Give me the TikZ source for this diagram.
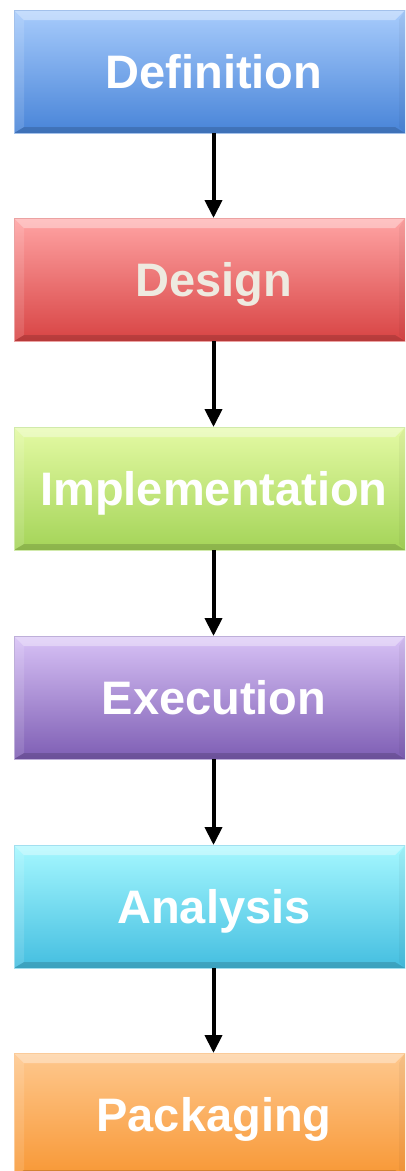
\documentclass[tikz,border=0pt]{standalone}
\usepackage{fontspec}
\setmainfont{Liberation Sans}
\usetikzlibrary{arrows.meta}
\definecolor{bluetop}{HTML}{A8CCFC}\definecolor{bluebot}{HTML}{4884D8}
\definecolor{redtop}{HTML}{FFA4A4}\definecolor{redbot}{HTML}{D84444}
\definecolor{greentop}{HTML}{E4FAA4}\definecolor{greenbot}{HTML}{A4D458}
\definecolor{purptop}{HTML}{D8C2F6}\definecolor{purpbot}{HTML}{7E5EB4}
\definecolor{cyantop}{HTML}{A6F8FF}\definecolor{cyanbot}{HTML}{44BEE0}
\definecolor{orgtop}{HTML}{FEC88E}\definecolor{orgbot}{HTML}{F89836}
\definecolor{designtxt}{HTML}{EEEAE0}
\tikzset{
  stagebox/.style={rectangle, inner sep=0pt, outer sep=0pt,
    minimum width=391pt, minimum height=123pt,
    path picture={
      \fill[white,opacity=.35] (path picture bounding box.north west) -- (path picture bounding box.north east)
        -- ([xshift=-10pt,yshift=-10pt]path picture bounding box.north east)
        -- ([xshift=10pt,yshift=-10pt]path picture bounding box.north west) -- cycle;
      \fill[black,opacity=.15] (path picture bounding box.south west) -- (path picture bounding box.south east)
        -- ([xshift=-10pt,yshift=6pt]path picture bounding box.south east)
        -- ([xshift=10pt,yshift=6pt]path picture bounding box.south west) -- cycle;
      \fill[white,opacity=.12] (path picture bounding box.north west) -- ([xshift=10pt,yshift=-10pt]path picture bounding box.north west)
        -- ([xshift=10pt,yshift=6pt]path picture bounding box.south west) -- (path picture bounding box.south west) -- cycle;
      \fill[black,opacity=.04] (path picture bounding box.north east) -- ([xshift=-6pt,yshift=-10pt]path picture bounding box.north east)
        -- ([xshift=-6pt,yshift=6pt]path picture bounding box.south east) -- (path picture bounding box.south east) -- cycle;
    }},
  stagetxt/.style={anchor=base, inner sep=0pt, text=white, font=\fontsize{47}{51}\selectfont\bfseries},
  flowarrow/.style={line width=4pt, -{Triangle[width=17pt,length=18pt]}}
}
\begin{document}
\begin{tikzpicture}[x=1pt,y=-1pt]
\useasboundingbox (0,0) rectangle (405,1171);
\clip (0,0) rectangle (405,1171);
\node[stagebox, top color=bluetop, bottom color=bluebot, draw=bluebot!50!white, line width=0.6pt] (b1) at (209.5,71.5) {};
\node[stagebox, top color=redtop, bottom color=redbot, draw=redbot!50!white, line width=0.6pt] (b2) at (209.5,279.5) {};
\node[stagebox, top color=greentop, bottom color=greenbot, draw=greenbot!50!white, line width=0.6pt] (b3) at (209.5,488.5) {};
\node[stagebox, top color=purptop, bottom color=purpbot, draw=purpbot!50!white, line width=0.6pt] (b4) at (209.5,697.5) {};
\node[stagebox, top color=cyantop, bottom color=cyanbot, draw=cyanbot!50!white, line width=0.6pt] (b5) at (209.5,906.5) {};
\node[stagebox, top color=orgtop, bottom color=orgbot, draw=orgbot!50!white, line width=0.6pt] (b6) at (209.5,1114.5) {};
\node[stagetxt] (t1) at ([xshift=4.5pt,yshift=-17pt]b1.center) {Definition};
\node[stagetxt, text=designtxt] (t2) at ([xshift=4.5pt,yshift=-17pt]b2.center) {Design};
\node[stagetxt] (t3) at ([xshift=4.5pt,yshift=-17pt]b3.center) {Implementation};
\node[stagetxt] (t4) at ([xshift=4.5pt,yshift=-17pt]b4.center) {Execution};
\node[stagetxt] (t5) at ([xshift=4.5pt,yshift=-17pt]b5.center) {Analysis};
\node[stagetxt] (t6) at ([xshift=4.5pt,yshift=-17pt]b6.center) {Packaging};
\draw[flowarrow] ([xshift=4pt]b1.south) -- ([xshift=4pt]b2.north);
\draw[flowarrow] ([xshift=4pt]b2.south) -- ([xshift=4pt]b3.north);
\draw[flowarrow] ([xshift=4pt]b3.south) -- ([xshift=4pt]b4.north);
\draw[flowarrow] ([xshift=4pt]b4.south) -- ([xshift=4pt]b5.north);
\draw[flowarrow] ([xshift=4pt]b5.south) -- ([xshift=4pt]b6.north);
\end{tikzpicture}
\end{document}
